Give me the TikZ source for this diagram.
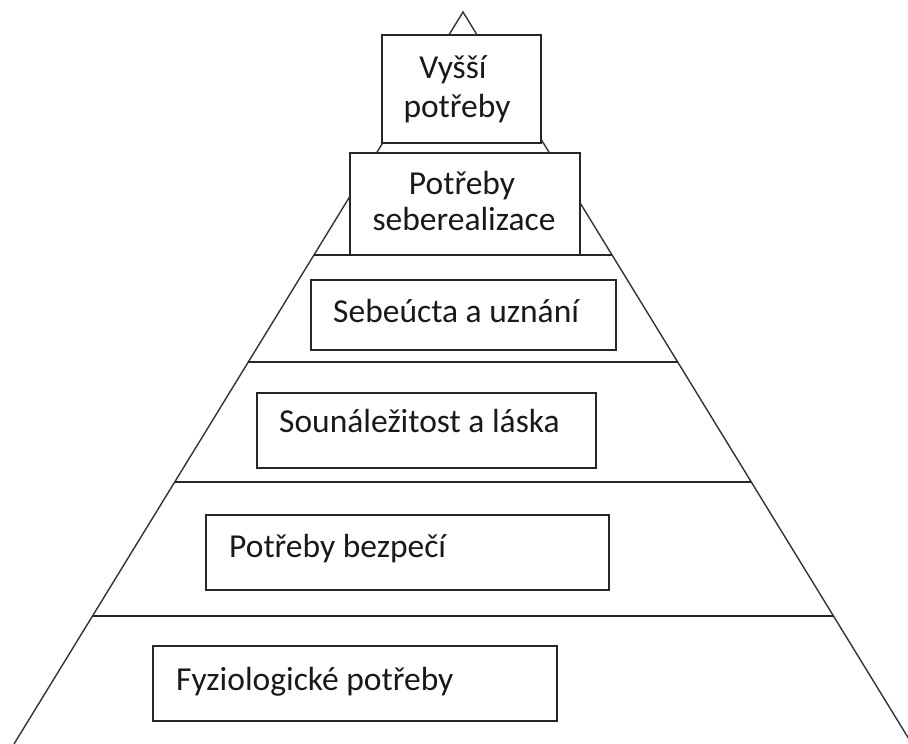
\documentclass[tikz,border=0pt]{standalone}
\usepackage{fontspec}
\setmainfont{Carlito}
\begin{document}
\begin{tikzpicture}[x=1pt,y=-1pt,
  edge/.style={draw=black!80,line width=1.4pt},
  level/.style={draw=black!85,line width=1.6pt},
  box/.style={draw=black!85,fill=white,line width=1.8pt,inner sep=0pt,rectangle},
  lbl/.style={inner sep=0pt,text=black!90,font=\fontsize{33.5}{40}\selectfont}]
  \useasboundingbox (0,0) rectangle (908,744);
  \clip (0,0) rectangle (908,744);

  % pyramid outline
  \coordinate (apex) at (463,12);
  \coordinate (bl) at (14,744);
  \coordinate (br) at (912,744);
  \draw[edge,line join=miter] (bl) -- (apex) -- (br);

  % level separators, ends on the pyramid sides
  \foreach \yy/\nm in {255/a,362/b,482/c,616/d}{
    \pgfmathsetmacro{\hw}{0.6134*(\yy-12)}
    \coordinate (\nm L) at ({463-\hw},\yy);
    \coordinate (\nm R) at ({463+\hw},\yy);
  }
  \draw[level] (aL) -- (aR);
  \draw[level] (bL) -- (bR);
  \draw[level] (cL) -- (cR);
  \draw[level] (dL) -- (dR);

  % boxes
  \node[box,minimum width=159,minimum height=108] (top)  at (461.5,89) {};
  \node[box,minimum width=230,minimum height=102] (self) at (465,204) {};
  \node[box,minimum width=305,minimum height=70]  (este) at (463.5,315) {};
  \node[box,minimum width=339,minimum height=75]  (love) at (426.5,430.5) {};
  \node[box,minimum width=403,minimum height=75]  (safe) at (407.5,552.5) {};
  \node[box,minimum width=404,minimum height=75]  (phys) at (355,683.5) {};

  % labels
  \node[lbl,anchor=base] (t1a) at (453,78) {Vyšší};
  \node[lbl,anchor=base] (t1b) at (457,117) {potřeby};
  \node[lbl,anchor=base] (t2a) at (462,194) {Potřeby};
  \node[lbl,anchor=base] (t2b) at (464,230) {seberealizace};
  \node[lbl,anchor=base west] (t3) at (333,322) {Sebeúcta a uznání};
  \node[lbl,anchor=base west] (t4) at (279,432) {Sounáležitost a láska};
  \node[lbl,anchor=base west] (t5) at (229,557) {Potřeby bezpečí};
  \node[lbl,anchor=base west] (t6) at (176,690) {Fyziologické potřeby};
\end{tikzpicture}
\end{document}
